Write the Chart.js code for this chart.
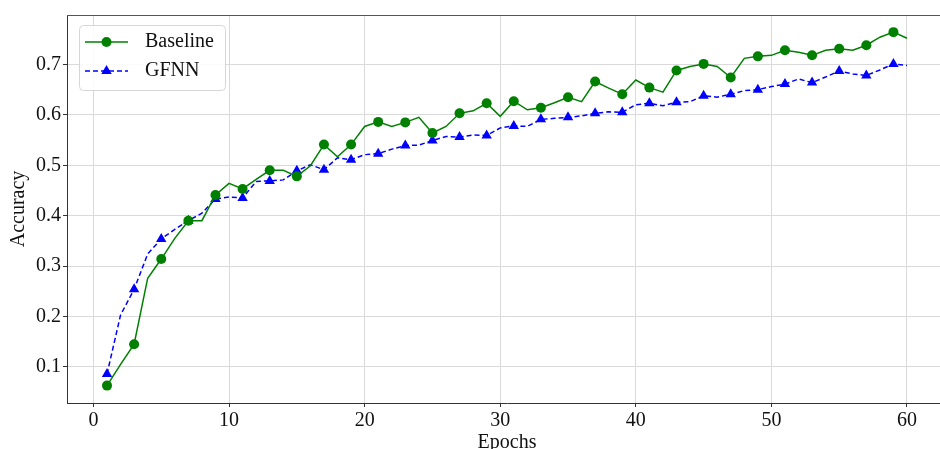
<!DOCTYPE html>
<html><head><meta charset="utf-8">
<script src="https://cdn.jsdelivr.net/npm/chart.js@4"></script>
<style>html,body{margin:0;padding:0;overflow:hidden;background:#fff;width:940px;height:449px}
#c{display:block}</style></head>
<body><canvas id="c" width="960" height="470" style="width:960px;height:470px"></canvas>
<script>
const epochs = [1,2,3,4,5,6,7,8,9,10,11,12,13,14,15,16,17,18,19,20,21,22,23,24,25,26,27,28,29,30,31,32,33,34,35,36,37,38,39,40,41,42,43,44,45,46,47,48,49,50,51,52,53,54,55,56,57,58,59,60];
const baseline = [0.063,0.105,0.145,0.276,0.314,0.355,0.390,0.390,0.441,0.464,0.453,0.472,0.490,0.490,0.478,0.499,0.541,0.517,0.541,0.577,0.586,0.577,0.585,0.595,0.564,0.577,0.603,0.608,0.623,0.597,0.627,0.610,0.614,0.624,0.635,0.626,0.666,0.653,0.641,0.669,0.654,0.645,0.688,0.696,0.701,0.696,0.674,0.712,0.716,0.718,0.728,0.724,0.718,0.728,0.731,0.728,0.738,0.754,0.764,0.752];
const gfnn = [0.086,0.203,0.254,0.324,0.354,0.373,0.390,0.405,0.433,0.437,0.435,0.468,0.469,0.471,0.489,0.501,0.491,0.515,0.511,0.521,0.523,0.532,0.539,0.540,0.549,0.557,0.556,0.560,0.559,0.574,0.578,0.577,0.591,0.593,0.595,0.598,0.603,0.606,0.605,0.620,0.623,0.618,0.625,0.626,0.638,0.635,0.641,0.648,0.650,0.656,0.661,0.671,0.664,0.675,0.687,0.681,0.678,0.689,0.701,0.698];
const xTicks = [0,10,20,30,40,50,60];
const yTicks = [0.1,0.2,0.3,0.4,0.5,0.6,0.7];
const seriesNames = ['Baseline','GFNN'];

const FONT = 'Liberation Serif, Times New Roman, serif';
const GREEN = '#008000', BLUE = '#0000ff';

const legendPlugin = {
  id: 'mplLegend',
  afterDraw(chart) {
    const ctx = chart.ctx;
    const ca = chart.chartArea;
    ctx.save();
    // top frame line
    ctx.strokeStyle = '#555';
    ctx.lineWidth = 1;
    ctx.beginPath();
    ctx.moveTo(ca.left, Math.round(ca.top) + 0.5);
    ctx.lineTo(ca.right, Math.round(ca.top) + 0.5);
    ctx.stroke();
    // legend box
    const bx = 79.5, by = 25.5, bw = 146, bh = 65, r = 4;
    ctx.beginPath();
    ctx.moveTo(bx + r, by);
    ctx.lineTo(bx + bw - r, by);
    ctx.quadraticCurveTo(bx + bw, by, bx + bw, by + r);
    ctx.lineTo(bx + bw, by + bh - r);
    ctx.quadraticCurveTo(bx + bw, by + bh, bx + bw - r, by + bh);
    ctx.lineTo(bx + r, by + bh);
    ctx.quadraticCurveTo(bx, by + bh, bx, by + bh - r);
    ctx.lineTo(bx, by + r);
    ctx.quadraticCurveTo(bx, by, bx + r, by);
    ctx.closePath();
    ctx.fillStyle = 'rgba(255,255,255,0.85)';
    ctx.fill();
    ctx.strokeStyle = '#d6d6d6';
    ctx.stroke();
    const rows = [
      {y: 42, color: GREEN, dash: [], shape: 'circle', label: seriesNames[0]},
      {y: 71, color: BLUE, dash: [5, 3], shape: 'triangle', label: seriesNames[1]}
    ];
    rows.forEach(row => {
      ctx.strokeStyle = row.color;
      ctx.lineWidth = 1.5;
      ctx.setLineDash(row.dash);
      ctx.beginPath();
      ctx.moveTo(85, row.y);
      ctx.lineTo(128, row.y);
      ctx.stroke();
      ctx.setLineDash([]);
      ctx.fillStyle = row.color;
      ctx.beginPath();
      if (row.shape === 'circle') {
        ctx.arc(106.5, row.y, 5, 0, Math.PI * 2);
      } else {
        const R = 6;
        for (let k = 0; k < 3; k++) {
          const a = k * 2 * Math.PI / 3;
          const px = 106.5 + Math.sin(a) * R, py = row.y - Math.cos(a) * R;
          if (k === 0) ctx.moveTo(px, py); else ctx.lineTo(px, py);
        }
        ctx.closePath();
      }
      ctx.fill();
      ctx.fillStyle = '#111';
      ctx.font = '20px ' + FONT;
      ctx.textBaseline = 'middle';
      ctx.textAlign = 'left';
      ctx.fillText(row.label, 145, row.y);
    });
    ctx.restore();
  }
};

const markerEvery2 = r => (ctx => (ctx.dataIndex % 2 === 0 ? r : 0));

new Chart(document.getElementById('c'), {
  type: 'line',
  data: {
    datasets: [
      {
        label: seriesNames[0],
        data: epochs.map((e, i) => ({x: e, y: baseline[i]})),
        borderColor: GREEN, backgroundColor: GREEN,
        borderWidth: 1.5,
        pointStyle: 'circle',
        pointRadius: markerEvery2(5),
        pointBackgroundColor: GREEN, pointBorderColor: GREEN, pointBorderWidth: 0,
        tension: 0, fill: false
      },
      {
        label: seriesNames[1],
        data: epochs.map((e, i) => ({x: e, y: gfnn[i]})),
        borderColor: BLUE, backgroundColor: BLUE,
        borderWidth: 1.5,
        borderDash: [5, 3],
        pointStyle: 'triangle',
        pointRadius: markerEvery2(6),
        pointBackgroundColor: BLUE, pointBorderColor: BLUE, pointBorderWidth: 0,
        tension: 0, fill: false
      }
    ]
  },
  options: {
    responsive: false,
    animation: false,
    devicePixelRatio: 1,
    layout: {padding: {top: 15, right: 13, bottom: 0, left: 0}},
    plugins: {legend: {display: false}, tooltip: {enabled: false}},
    scales: {
      x: {
        type: 'linear',
        min: -1.95, max: 62.95,
        afterBuildTicks: s => { s.ticks = xTicks.map(v => ({value: v})); },
        afterFit: s => { s.height = 67; },
        grid: {color: '#dadada', lineWidth: 1, tickColor: '#333', tickLength: 4, drawTicks: true},
        border: {color: '#333', width: 1},
        ticks: {font: {family: FONT, size: 20}, color: '#111', padding: 2, maxRotation: 0},
        title: {display: true, text: 'Epochs', font: {family: FONT, size: 20}, color: '#111', padding: {top: 0, bottom: 15}}
      },
      y: {
        type: 'linear',
        min: 0.0285, max: 0.798,
        afterBuildTicks: s => { s.ticks = yTicks.map(v => ({value: v})); },
        afterFit: s => { s.width = 67; },
        grid: {color: '#dadada', lineWidth: 1, tickColor: '#333', tickLength: 4, drawTicks: true},
        border: {color: '#333', width: 1},
        ticks: {font: {family: FONT, size: 20}, color: '#111', padding: 2, callback: v => v.toFixed(1)},
        title: {display: true, text: 'Accuracy', font: {family: FONT, size: 20}, color: '#111', padding: {top: 7, bottom: 0}}
      }
    }
  },
  plugins: [legendPlugin]
});
</script>
</body></html>
